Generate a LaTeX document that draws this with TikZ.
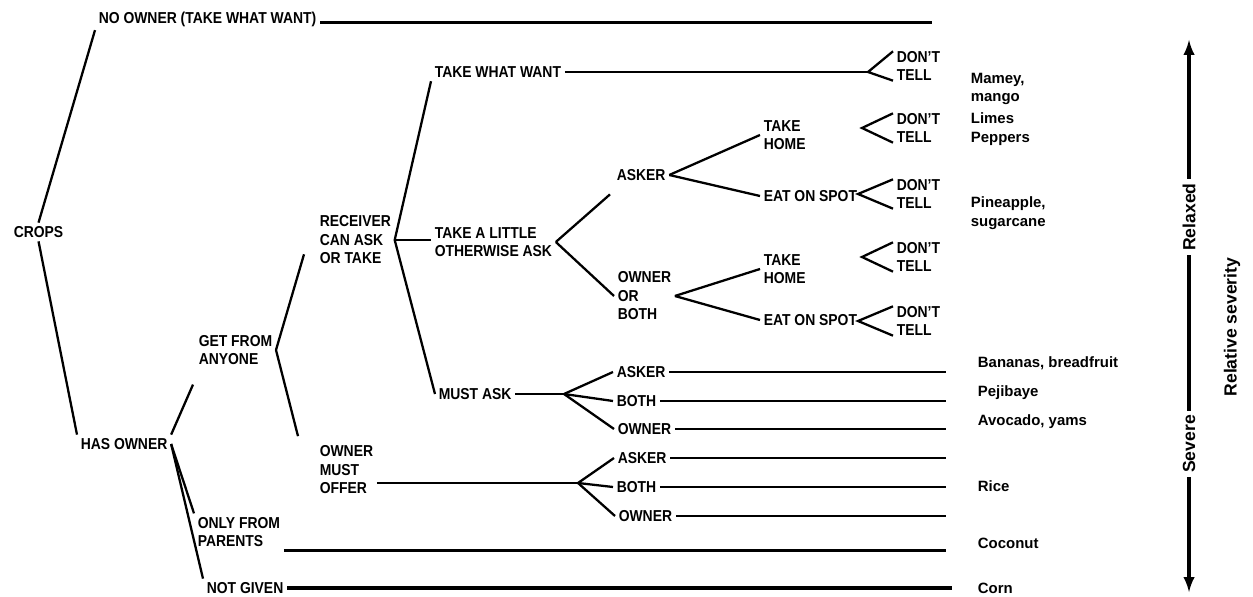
\documentclass[tikz,border=0pt]{standalone}
\usepackage{fontspec}
\setmainfont{Liberation Sans}[FakeStretch=0.88]
\newfontfamily\plainsans{Liberation Sans}
\tikzset{
  lbl/.style={anchor=west, inner sep=1.5pt, align=left, font=\bfseries\fontsize{9}{10.5}\selectfont},
  crop/.style={anchor=west, inner sep=1pt, align=left, font=\plainsans\bfseries\fontsize{8.5}{10.5}\selectfont},
  axislbl/.style={rotate=90, inner sep=2pt, font=\plainsans\bfseries\fontsize{10}{12}\selectfont},
  trunk/.style={line width=1.9pt},
}

\begin{document}
\begin{tikzpicture}[x=0.02cm, y=-0.02cm, line width=1.3pt]
                        \useasboundingbox (0,0) rectangle (1253,597);

                        \node[lbl] (crops) at (10,232) {CROPS};
                        \node[lbl] (noowner) at (95,19) {NO OWNER (TAKE WHAT WANT)};
                        \node[lbl] (hasowner) at (77,444) {HAS OWNER};
                        \node[lbl] (getfrom) at (195,350) {GET FROM\\ANYONE};
                        \node[lbl] (onlyfrom) at (194,532) {ONLY FROM\\PARENTS};
                        \node[lbl] (notgiven) at (203,588) {NOT GIVEN};
                        \node[lbl] (receiver) at (316,240) {RECEIVER\\CAN ASK\\OR TAKE};
                        \node[lbl] (ownermust) at (316,470) {OWNER\\MUST\\OFFER};
                        \node[lbl] (takewhat) at (431,72) {TAKE WHAT WANT};
                        \node[lbl] (takelittle) at (431,242) {TAKE A LITTLE\\OTHERWISE ASK};
                        \node[lbl] (mustask) at (435,394) {MUST ASK};
                        \node[lbl] (asker) at (613,175) {ASKER};
                        \node[lbl] (ownerboth) at (614,296) {OWNER\\OR\\BOTH};
                        \node[lbl] (homea) at (760,135) {TAKE\\HOME};
                        \node[lbl] (spota) at (760,196) {EAT ON SPOT};
                        \node[lbl] (homeb) at (760,269) {TAKE\\HOME};
                        \node[lbl] (spotb) at (760,320) {EAT ON SPOT};
                        \node[lbl] (askerm) at (613,372) {ASKER};
                        \node[lbl] (bothm) at (613,401) {BOTH};
                        \node[lbl] (ownerm) at (614,429) {OWNER};
                        \node[lbl] (askero) at (614,458) {ASKER};
                        \node[lbl] (botho) at (613,487) {BOTH};
                        \node[lbl] (ownero) at (615,516) {OWNER};

                        \foreach \n/\x/\y/\t in {1/868/72/66, 2/862/128/128, 3/858/194/194, 4/862/257/257, 5/858/321/321}{
                          \node[lbl] (tell\n) at (893,\t) {DON'T\\TELL};
                          \coordinate (fork\n) at (\x,\y);
                          \draw (tell\n.150) -- (fork\n) -- (tell\n.210);
                        }

                        \node[crop] (mamey) at (968,89) {Mamey,\\mango};
                        \node[crop] (limes) at (968,129) {Limes\\Peppers};
                        \node[crop] (pineapple) at (968,213) {Pineapple,\\sugarcane};
                        \node[crop] (bananas) at (975,363) {Bananas, breadfruit};
                        \node[crop] (pejibaye) at (975,393) {Pejibaye};
                        \node[crop] (avocado) at (975,422) {Avocado, yams};
                        \node[crop] (rice) at (975,486) {Rice};
                        \node[crop] (coconut) at (975,543) {Coconut};
                        \node[crop] (corn) at (975,588) {Corn};

                        \coordinate (forkm) at (564,394);
                        \coordinate (forko) at (578,483);
                        \coordinate (rim) at (946,0);
                        \coordinate (topend) at (932,0);
                        \coordinate (cornend) at (952,0);

                        \draw (crops.north) -- (noowner.south west);
                        \draw (crops.south) -- (hasowner.north west);
                        \draw (hasowner.north east) -- ([shift={(-2,16)}]getfrom.south west);
                        \draw (hasowner.east) -- (onlyfrom.north west);
                        \draw (hasowner.east) -- (notgiven.north west);
                        \draw (getfrom.east) -- ([shift={(-12,0)}]receiver.200);
                        \draw (getfrom.east) -- ([shift={(-18,-6)}]ownermust.north west);
                        \draw (receiver.east) -- (takewhat.south west);
                        \draw (receiver.east) -- (takelittle.west |- receiver.east);
                        \draw (receiver.east) -- (mustask.west);
                        \draw (takelittle.east) -- ([shift={(-3,10)}]asker.south west);
                        \draw (takelittle.east) -- (ownerboth.west);
                        \draw (asker.east) -- (homea.west);
                        \draw (asker.east) -- (spota.west);
                        \draw (ownerboth.east) -- (homeb.west);
                        \draw (ownerboth.east) -- (spotb.west);
                        \draw (takewhat.east) -- (fork1);
                        \draw (mustask.east) -- (forkm);
                        \draw (forkm) -- (askerm.west);
                        \draw (forkm) -- (bothm.west);
                        \draw (forkm) -- (ownerm.west);
                        \draw (ownermust.east |- forko) -- (forko);
                        \draw (forko) -- (askero.west);
                        \draw (forko) -- (botho.west);
                        \draw (forko) -- (ownero.west);

                        \foreach \n in {askerm,bothm,ownerm,askero,botho,ownero}
                          \draw (\n.east) -- (\n.east -| rim);
                        \draw[trunk] ([yshift=-2pt]noowner.east) -- ([yshift=-2pt]noowner.east -| topend);
                        \draw[trunk] (onlyfrom.south east) -- (onlyfrom.south east -| rim);
                        \draw[trunk] (notgiven.east) -- (notgiven.east -| cornend);

                        \coordinate (axtop) at (1189,40);
                        \coordinate (axbot) at (1189,592);
                        \node[axislbl] (relaxed) at (1189,217) {Relaxed};
                        \node[axislbl] (severe) at (1189,444) {Severe};
                        \node[axislbl] (relsev) at (1232,327) {Relative severity};
                        \draw[trunk, -latex] (relaxed) -- (axtop);
                        \draw[trunk] (relaxed) -- (severe);
                        \draw[trunk, -latex] (severe) -- (axbot);
                    \end{tikzpicture}
\end{document}
